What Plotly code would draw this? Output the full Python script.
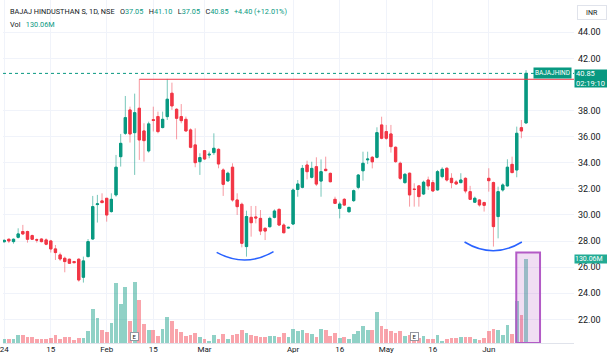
import plotly.graph_objects as go

# ---------------- data ----------------
opens = [
    27.95, 28.14, 27.96, 28.29, 28.73, 28.73, 28.42, 28.10, 28.16, 28.09,
    28.01, 27.40, 26.94, 26.68, 26.61, 26.43, 26.61, 25.23, 26.81, 28.16,
    30.80, 31.08, 31.28, 30.26, 31.54, 34.47, 36.26, 38.05, 36.31, 38.18,
    36.44, 34.91, 37.30, 37.54, 36.70, 37.54, 39.33, 38.10, 37.54, 37.33,
    36.52, 35.37, 34.09, 34.93, 34.60, 34.78, 35.03, 33.45, 32.61, 33.66,
    31.15, 30.82, 27.58, 29.82, 29.85, 29.74, 28.98, 29.10, 29.82, 30.43,
    29.23, 29.00, 29.31, 31.96, 32.12, 33.83, 32.89, 33.70, 32.60, 33.50,
    33.19, 31.20, 30.51, 31.20, 30.25, 31.10, 32.12, 33.39, 34.23, 34.42,
    34.42, 36.90, 36.39, 36.21, 35.19, 33.96, 32.48, 33.20, 31.98, 32.23,
    31.61, 32.68, 32.48, 31.92, 32.94, 33.58, 32.81, 32.53, 32.48, 32.81,
    31.79, 30.98, 31.15, 30.95, 32.81, 32.48, 29.88, 31.92, 32.23, 33.88,
    33.45, 36.69, 37.05,
]
highs = [
    28.15, 28.20, 28.20, 28.98, 29.24, 28.80, 28.50, 28.21, 28.20, 28.21,
    28.09, 27.70, 27.12, 26.81, 26.65, 26.48, 26.68, 26.81, 28.16, 31.46,
    31.54, 31.66, 31.28, 31.66, 34.60, 36.21, 39.12, 38.30, 39.30, 40.40,
    37.03, 37.15, 38.30, 37.92, 37.92, 40.43, 40.14, 38.18, 38.50, 37.54,
    36.64, 36.64, 34.73, 34.98, 34.86, 36.26, 35.11, 33.58, 33.32, 33.96,
    31.66, 30.95, 30.33, 30.69, 30.69, 30.38, 29.05, 29.87, 30.43, 30.51,
    29.36, 29.10, 32.04, 32.68, 33.83, 34.16, 34.08, 34.42, 34.26, 34.47,
    33.25, 31.40, 31.02, 31.30, 30.63, 31.95, 33.14, 34.85, 34.85, 34.52,
    36.72, 37.53, 36.90, 36.90, 35.25, 34.09, 33.20, 33.25, 32.43, 32.30,
    32.63, 32.94, 32.68, 33.45, 33.66, 33.66, 33.20, 32.68, 33.20, 32.89,
    32.23, 31.41, 31.20, 31.02, 33.58, 32.56, 32.17, 32.43, 34.27, 34.47,
    36.77, 37.28, 41.10,
]
lows = [
    27.90, 27.85, 27.80, 28.20, 28.47, 27.88, 28.10, 27.88, 27.90, 27.68,
    27.12, 26.55, 26.48, 25.61, 26.25, 26.30, 24.89, 24.82, 26.76, 28.10,
    29.42, 30.90, 29.49, 30.18, 31.40, 33.71, 36.13, 35.55, 33.07, 34.22,
    34.09, 34.78, 36.40, 36.26, 36.64, 37.28, 38.05, 35.80, 37.03, 36.39,
    35.11, 33.66, 33.07, 34.22, 34.35, 34.60, 33.58, 31.46, 32.56, 31.02,
    30.00, 27.52, 26.81, 28.34, 29.36, 28.46, 28.08, 29.05, 29.74, 29.15,
    28.59, 28.95, 29.23, 31.40, 32.04, 32.73, 32.80, 32.22, 31.40, 33.35,
    32.50, 30.84, 29.74, 30.70, 30.18, 31.00, 31.97, 32.63, 33.90, 33.57,
    34.34, 35.80, 35.75, 34.78, 34.00, 32.68, 32.40, 30.64, 30.64, 30.64,
    31.53, 31.92, 31.79, 31.87, 32.81, 32.56, 32.05, 32.30, 32.43, 31.66,
    31.15, 30.95, 30.64, 30.26, 31.79, 27.58, 28.21, 31.79, 32.17, 33.20,
    32.89, 35.88, 37.05,
]
closes = [
    28.05, 28.01, 28.14, 28.55, 28.55, 28.14, 28.14, 28.08, 27.96, 27.76,
    27.40, 27.12, 26.63, 26.43, 26.30, 26.35, 25.02, 26.48, 27.96, 30.64,
    30.85, 30.95, 30.00, 31.20, 33.66, 35.49, 37.46, 36.21, 37.84, 35.75,
    35.70, 36.98, 37.25, 36.39, 37.33, 38.87, 38.36, 37.41, 37.23, 36.44,
    35.19, 34.01, 34.40, 34.29, 34.65, 35.11, 33.91, 32.35, 33.20, 31.15,
    30.64, 27.83, 29.88, 29.41, 29.78, 28.77, 28.77, 29.74, 30.30, 29.23,
    28.64, 29.05, 31.91, 32.37, 33.57, 33.32, 33.57, 32.37, 33.32, 33.40,
    32.55, 30.89, 30.84, 30.76, 30.58, 31.86, 33.06, 33.96, 34.28, 34.08,
    36.31, 35.88, 35.88, 35.24, 34.09, 32.81, 33.12, 31.54, 31.96, 31.41,
    32.51, 32.23, 31.84, 33.32, 33.50, 32.68, 32.48, 32.38, 32.68, 31.84,
    31.20, 31.28, 30.77, 30.74, 32.63, 29.11, 31.79, 32.30, 33.66, 33.25,
    36.26, 36.44, 40.85,
]
volumes_m = [
    6.7, 5.7, 6.7, 12.9, 12.9, 9.3, 9.8, 6.2, 6.2, 6.2,
    8.3, 12.9, 5.7, 9.8, 9.3, 4.6, 8.3, 8.3, 18.6, 53.0,
    39.0, 19.6, 17.0, 30.5, 93.0, 60.0, 86.0, 34.0, 95.0, 66.6,
    29.0, 20.0, 20.0, 10.8, 21.0, 40.0, 34.0, 21.0, 17.0, 10.8,
    12.9, 16.0, 9.3, 6.7, 2.6, 12.4, 6.7, 13.4, 6.7, 11.9,
    13.9, 19.6, 16.0, 11.9, 10.8, 9.8, 9.8, 10.8, 10.8, 9.8,
    16.0, 9.8, 22.2, 18.6, 19.6, 16.0, 13.4, 9.8, 22.2, 20.1,
    10.8, 16.0, 7.2, 9.8, 6.7, 14.4, 18.6, 26.3, 20.1, 20.1,
    48.0, 26.8, 21.7, 18.0, 15.5, 18.0, 11.4, 12.0, 9.0, 7.7,
    11.4, 6.7, 6.2, 12.4, 2.6, 6.7, 7.2, 7.2, 8.8, 9.3,
    8.8, 6.2, 5.2, 7.2, 19.0, 22.0, 19.6, 12.4, 28.4, 14.4,
    65.5, 43.9, 130.06,
]
tick_index = [0, 10, 22, 32, 43, 62, 72, 82, 92, 104]
tick_text = ["24", "15", "Feb", "15", "Mar", "Apr", "16", "May", "16", "Jun"]
price_ticks = [22, 24, 26, 28, 30, 32, 34, 36, 38, 42, 44]

resistance_level = 40.40
resistance_start = 29
last_price = 40.85
# annotation arcs: (x0, y0, x_bottom, y_bottom, x1, y1)
arc_left = (45.6, 27.14, 51.7, 26.55, 57.8, 27.19)
arc_right = (98.8, 27.93, 104.95, 27.26, 111.1, 27.93)
box_x = (109.9, 115.0)
box_vol_top = 140.0
earnings_idx = [28, 88]

# ---------------- styling ----------------
UP = "#089981"
DOWN = "#F23645"
UP_WICK = "rgba(8,153,129,0.55)"
DOWN_WICK = "rgba(242,54,69,0.5)"
VOL_UP = "rgba(8,153,129,0.45)"
VOL_DOWN = "rgba(242,54,69,0.45)"
FONT = "Roboto"
TXT = "#131722"
SP = "\u00a0\u00a0\u00a0"

n = len(closes)
xs = list(range(n))
x_range = [-0.256, 122.29]
PLOT_H = 343.0

body_hi = [max(o, c) for o, c in zip(opens, closes)]
body_lo = [min(o, c) for o, c in zip(opens, closes)]
vol_colors = [VOL_UP if c >= o else VOL_DOWN for o, c in zip(opens, closes)]

fig = go.Figure()

# volume (base axis, underneath)
fig.add_trace(go.Bar(
    x=xs, y=volumes_m, marker=dict(color=vol_colors, line=dict(width=0)),
    width=0.8, xaxis="x", yaxis="y", hoverinfo="skip", showlegend=False,
))

# wicks
fig.add_trace(go.Candlestick(
    x=xs, open=opens, high=highs, low=lows, close=closes,
    increasing=dict(line=dict(color=UP_WICK, width=1), fillcolor=UP_WICK),
    decreasing=dict(line=dict(color=DOWN_WICK, width=1), fillcolor=DOWN_WICK),
    xaxis="x", yaxis="y2", hoverinfo="skip", showlegend=False,
))
# bodies
fig.add_trace(go.Candlestick(
    x=xs, open=opens, high=body_hi, low=body_lo, close=closes,
    increasing=dict(line=dict(color=UP, width=1), fillcolor=UP),
    decreasing=dict(line=dict(color=DOWN, width=1), fillcolor=DOWN),
    xaxis="x", yaxis="y2", hoverinfo="skip", showlegend=False,
))

shapes = []
# current price dotted line
shapes.append(dict(type="line", xref="paper", x0=0, x1=1, yref="y2",
                   y0=last_price, y1=last_price,
                   line=dict(color=UP, width=1, dash="dot")))
# resistance line
shapes.append(dict(type="line", xref="x", x0=resistance_start, x1=x_range[1],
                   yref="y2", y0=resistance_level, y1=resistance_level,
                   line=dict(color=DOWN, width=1)))


def arc_path(a):
    x0, y0, xb, yb, x1, y1 = a
    yc = 2 * yb - (y0 + y1) / 2
    return f"M {x0},{y0} Q {xb},{yc} {x1},{y1}"


for a in (arc_left, arc_right):
    shapes.append(dict(type="path", xref="x", yref="y2", path=arc_path(a),
                       line=dict(color="#2962FF", width=1.5)))
# highlight box around last volumes
shapes.append(dict(type="rect", xref="x", yref="y", x0=box_x[0], x1=box_x[1],
                   y0=0, y1=box_vol_top, layer="above",
                   fillcolor="rgba(186,104,200,0.22)",
                   line=dict(color="#B35BC6", width=2)))

annotations = []
hdr = (
    f"BAJAJ HINDUSTHAN S, 1D, NSE{SP}"
    f"O<span style='color:{UP}'>37.05</span>{SP}"
    f"H<span style='color:{UP}'>41.10</span>{SP}"
    f"L<span style='color:{UP}'>37.05</span>{SP}"
    f"C<span style='color:{UP}'>40.85</span>{SP}"
    f"<span style='color:{UP}'>+4.40 (+12.01%)</span>"
)
annotations.append(dict(xref="paper", yref="paper", x=5 / 574, y=1 - 12 / PLOT_H,
                        xanchor="left", yanchor="middle", text=hdr, showarrow=False,
                        font=dict(family=FONT, size=7.3, color=TXT)))
annotations.append(dict(xref="paper", yref="paper", x=5 / 574, y=1 - 24 / PLOT_H,
                        xanchor="left", yanchor="middle",
                        text=f"Vol{SP}<span style='color:{UP}'>130.06M</span>",
                        showarrow=False, font=dict(family=FONT, size=7.3, color=TXT)))
# INR box
annotations.append(dict(xref="paper", yref="paper", x=577 / 574, y=1 - 12.5 / PLOT_H,
                        xanchor="left", yanchor="middle", text="INR", showarrow=False,
                        width=26, height=11, bgcolor="white", bordercolor="#e0e3eb",
                        borderwidth=1, font=dict(family=FONT, size=7, color=TXT)))
# symbol tag
annotations.append(dict(xref="paper", yref="paper", x=572 / 574, y=1 - 73 / PLOT_H,
                        xanchor="right", yanchor="middle", text="BAJAJHIND",
                        showarrow=False, bgcolor=UP, borderpad=1,
                        font=dict(family=FONT, size=6.5, color="white")))
# price tag
annotations.append(dict(xref="paper", yref="paper", x=1.0, y=1 - 69 / PLOT_H,
                        xanchor="left", yanchor="top",
                        text="40.85<br>02:19:10", align="left", showarrow=False,
                        bgcolor=UP, borderpad=1, width=33, height=15,
                        font=dict(family=FONT, size=7.5, color="white")))
# volume tag
annotations.append(dict(xref="paper", yref="paper", x=1.0, y=1 - 259 / PLOT_H,
                        xanchor="left", yanchor="middle", text="130.06M",
                        showarrow=False, bgcolor="#22ab94", borderpad=0,
                        width=33, height=8, align="left",
                        font=dict(family=FONT, size=7, color="white")))
# earnings markers
for ei in earnings_idx:
    annotations.append(dict(xref="x", yref="paper", x=ei, y=1 - 336 / PLOT_H,
                            xanchor="center", yanchor="middle", text="E",
                            showarrow=False, bgcolor="white", bordercolor="#9598a1",
                            borderwidth=1, borderpad=0, width=7, height=7,
                            font=dict(family=FONT, size=6, color=TXT)))

fig.update_layout(
    width=607, height=355, autosize=False,
    margin=dict(l=0, r=33, t=0, b=12, pad=0),
    paper_bgcolor="white", plot_bgcolor="white",
    showlegend=False, bargap=0, boxmode="overlay",
    xaxis=dict(range=x_range, tickmode="array", tickvals=tick_index,
               ticktext=tick_text, showgrid=True, gridcolor="#f0f3fa",
               zeroline=False, showline=True, linecolor="#e0e3eb", linewidth=1,
               ticks="", ticklabelstandoff=-2, ticklabeloverflow="allow",
               tickfont=dict(family=FONT, size=8, color=TXT),
               rangeslider=dict(visible=False)),
    yaxis=dict(range=[0, 531], visible=False, showgrid=False, zeroline=False,
               fixedrange=True),
    yaxis2=dict(range=[20.19, 46.475], overlaying="y", side="right",
                tickmode="array", tickvals=price_ticks,
                ticktext=[f"{v:.2f}" for v in price_ticks],
                showgrid=True, gridcolor="#f0f3fa", zeroline=False,
                showline=False, ticks="", ticklabelstandoff=3,
                tickfont=dict(family=FONT, size=9, color=TXT)),
    shapes=shapes, annotations=annotations,
)

fig.write_html(
    "out.html",
    config={"displayModeBar": False},
    post_script="document.body.style.margin='0';document.body.style.overflow='hidden';",
)
